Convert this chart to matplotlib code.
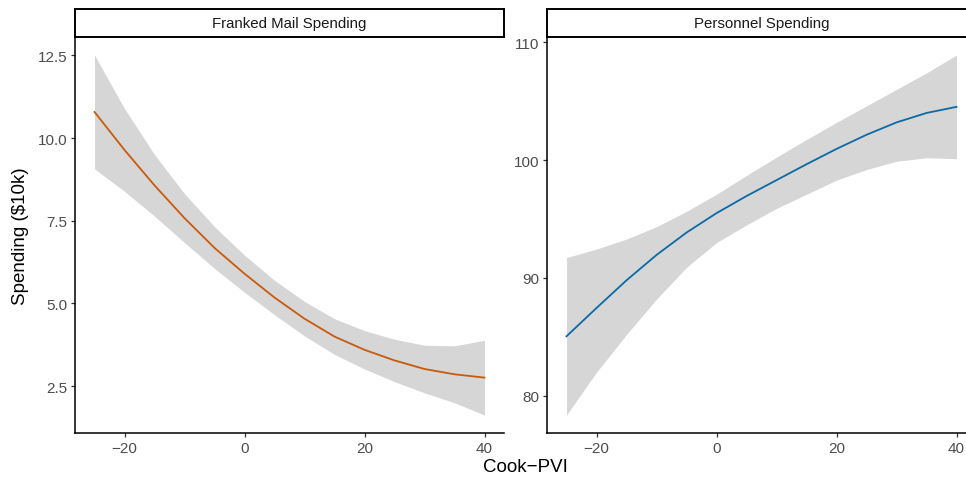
import matplotlib
matplotlib.use("Agg")
import matplotlib.pyplot as plt
import numpy as np

plt.rcParams['font.family'] = ['Liberation Sans', 'DejaVu Sans']

# Cook PVI grid where the fitted curves are evaluated
pvi = [-25, -20, -15, -10, -5, 0, 5, 10, 15, 20, 25, 30, 35, 40]

# franked mail spending ($10k): fit and 95% band
mail_fit = [10.79, 9.64, 8.57, 7.58, 6.68, 5.90, 5.18, 4.54, 4.00, 3.60, 3.28, 3.02, 2.86, 2.76]
mail_hi = [12.51, 10.89, 9.50, 8.32, 7.32, 6.46, 5.70, 5.06, 4.54, 4.18, 3.92, 3.74, 3.72, 3.89]
mail_lo = [9.07, 8.39, 7.64, 6.84, 6.06, 5.34, 4.66, 4.02, 3.46, 3.02, 2.64, 2.30, 2.00, 1.63]

# personnel spending ($10k): fit and 95% band
pers_fit = [85.05, 87.45, 89.80, 91.95, 93.85, 95.50, 96.95, 98.30, 99.65, 100.95, 102.15, 103.20, 104.00, 104.52]
pers_hi = [91.73, 92.45, 93.30, 94.35, 95.65, 97.10, 98.70, 100.25, 101.75, 103.20, 104.60, 106.00, 107.40, 108.92]
pers_lo = [78.37, 82.00, 85.20, 88.20, 90.90, 93.00, 94.50, 95.90, 97.10, 98.30, 99.20, 99.90, 100.20, 100.12]

panels = [
    ("Franked Mail Spending", mail_fit, mail_hi, mail_lo, "#C95A0C", [2.5, 5.0, 7.5, 10.0, 12.5]),
    ("Personnel Spending", pers_fit, pers_hi, pers_lo, "#0A6AA6", [80, 90, 100, 110]),
]
x_ticks = [-20, 0, 20, 40]

W, H = 966, 481
fig = plt.figure(figsize=(W / 100, H / 100), dpi=100)

lefts = [75, 547]
pw = 429
top, bottom = 38, 434

for left, (title, fit, hi, lo, col, yt) in zip(lefts, panels):
    ax = fig.add_axes([left / W, (H - bottom) / H, pw / W, (bottom - top) / H])
    ax.fill_between(pvi, lo, hi, color="#D6D6D6", linewidth=0)
    ax.plot(pvi, fit, color=col, linewidth=1.3)
    ax.set_xticks(x_ticks)
    ax.set_yticks(yt)
    if isinstance(yt[0], float):
        ax.set_yticklabels([f"{v:.1f}" for v in yt])
    for s in ["top", "right"]:
        ax.spines[s].set_visible(False)
    for s in ["left", "bottom"]:
        ax.spines[s].set_linewidth(1.1)
        ax.spines[s].set_color("black")
    ax.tick_params(length=3, width=0.9, color="#333333", labelcolor="#4D4D4D",
                   labelsize=11, pad=2.5)

    # facet strip
    sax = fig.add_axes([left / W, (H - top) / H, pw / W, 28 / H])
    sax.set_xticks([])
    sax.set_yticks([])
    for s in sax.spines.values():
        s.set_linewidth(1.4)
        s.set_color("black")
    sax.text(0.5, 0.5, title, ha="center", va="center", fontsize=10.8, color="#1A1A1A",
             transform=sax.transAxes)

fig.text(525 / W, 1 - 468 / H, "Cook\u2212PVI", ha="center", va="center", fontsize=13.5)
fig.text(21 / W, 1 - 236 / H, "Spending ($10k)", ha="center", va="center",
         rotation=90, fontsize=13.5)

fig.savefig("out.png", dpi=100)
